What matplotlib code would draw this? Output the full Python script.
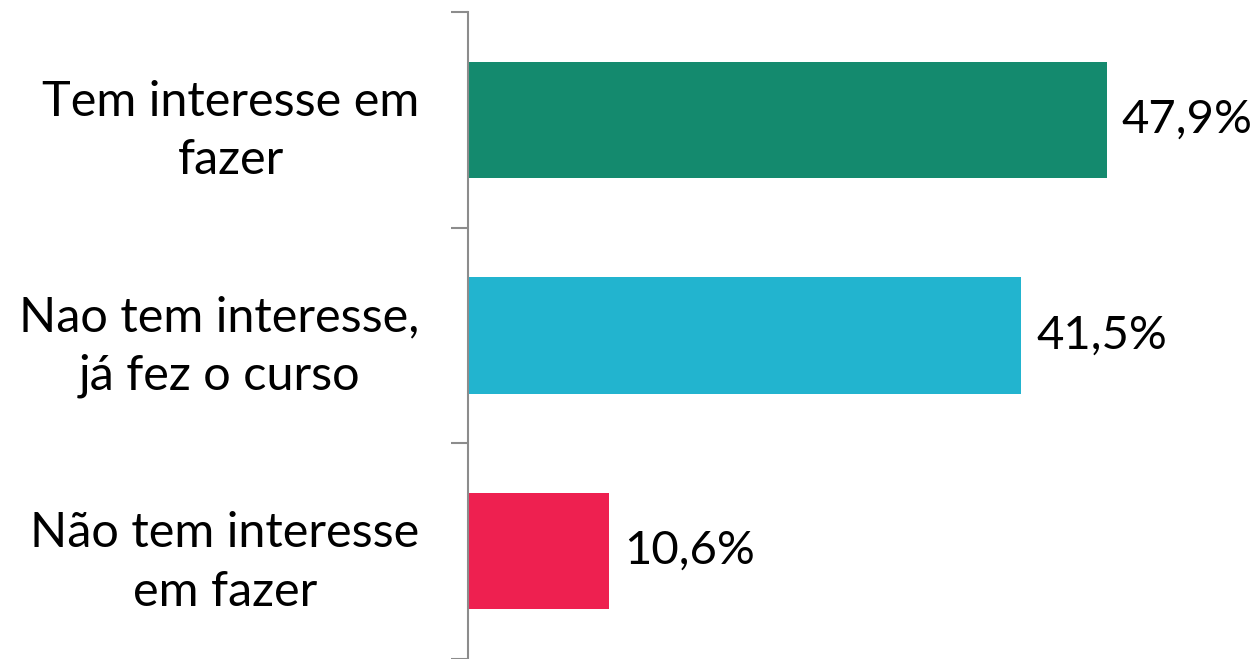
import matplotlib.pyplot as plt
import numpy as np

categories = ['Tem interesse em\nfazer', 'Nao tem interesse,\njá fez o curso', 'Não tem interesse\nem fazer']
values = [47.9, 41.5, 10.6]
value_labels = ['47,9%', '41,5%', '10,6%']
colors = ['#148A6E', '#22B4CF', '#EE2050']

plt.rcParams['font.family'] = ['Lato', 'DejaVu Sans']

fig = plt.figure(figsize=(12.6, 6.59), dpi=100)
ax = fig.add_axes([468 / 1260, 0, 1 - 468 / 1260, 1 - 12 / 659])

y = np.arange(len(categories))
ax.barh(y, values, height=0.54, color=colors)
ax.set_ylim(2.5, -0.5)
ax.set_xlim(0, 59.4)

for yi, v, lab in zip(y, values, value_labels):
    ax.text(v + 1.1, yi, lab, va='center', ha='left', fontsize=34, color='black')

ax.set_yticks(y)
ax.set_yticklabels(categories, fontsize=35, linespacing=1.4)
for t in ax.get_yticklabels():
    t.set_multialignment('center')
ax.tick_params(axis='y', which='major', length=0, pad=35)
ax.set_yticks([-0.5, 0.5, 1.5, 2.5], minor=True)
ax.tick_params(axis='y', which='minor', length=12, width=1.5, color='#8c8c8c')
ax.set_xticks([])

for side in ['top', 'right', 'bottom']:
    ax.spines[side].set_visible(False)
ax.spines['left'].set_color('#8c8c8c')
ax.spines['left'].set_linewidth(1.5)

fig.savefig('out.png', dpi=100)
